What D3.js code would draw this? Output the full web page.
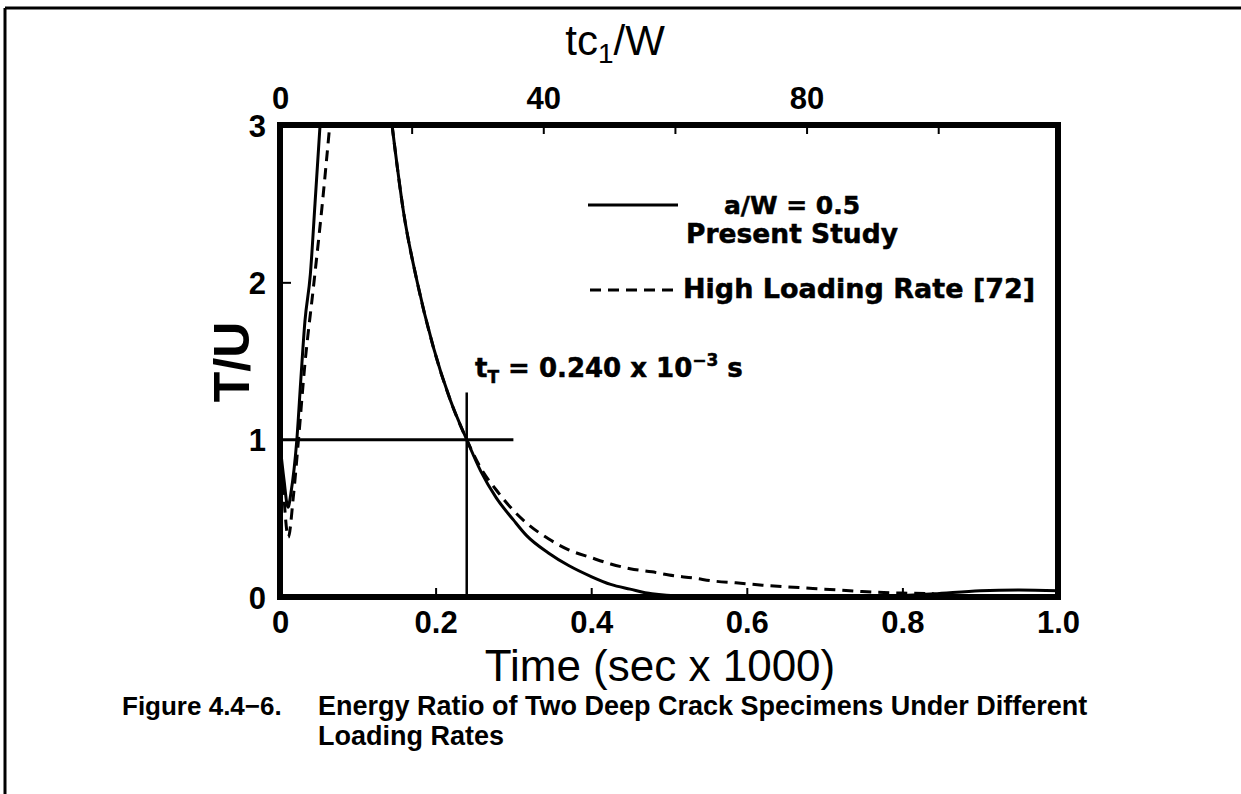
<!DOCTYPE html>
<html>
<head>
<meta charset="utf-8">
<script src="https://cdn.jsdelivr.net/npm/d3@7"></script>
<style>
  html, body { margin: 0; padding: 0; background: #fff; }
  svg { display: block; }
</style>
</head>
<body>
<svg id="chart" width="1241" height="794"></svg>
<script>
// ---------------- data ----------------
// Present study (a/W = 0.5), solid line: rising branch and falling branch
const presentRiseTime  = [0, 0.005, 0.0103, 0.014, 0.0215, 0.027, 0.032, 0.039, 0.045, 0.0515];
const presentRiseRatio = [0.97, 0.75, 0.57, 0.66, 0.99, 1.4, 1.75, 2.05, 2.5, 3.0];
const presentFallTime  = [0.144, 0.159, 0.176, 0.197, 0.219, 0.240, 0.258, 0.278, 0.300, 0.317, 0.345, 0.371, 0.400, 0.425, 0.450, 0.478, 0.520, 0.600, 0.700, 0.780, 0.840, 0.900, 0.950, 1.000];
const presentFallRatio = [3.0, 2.44, 2.01, 1.59, 1.25, 1.0, 0.80, 0.63, 0.49, 0.39, 0.28, 0.20, 0.13, 0.08, 0.05, 0.02, 0.005, 0.0, 0.0, 0.005, 0.02, 0.04, 0.045, 0.04];
// High loading rate [72], dashed line
const highRiseTime  = [0.004, 0.0107, 0.017, 0.0236, 0.032, 0.043, 0.054, 0.064];
const highRiseRatio = [0.72, 0.38, 0.63, 0.99, 1.48, 1.97, 2.48, 3.0];
const highFallTime  = [0.144, 0.159, 0.176, 0.197, 0.219, 0.240, 0.258, 0.278, 0.300, 0.317, 0.345, 0.371, 0.400, 0.425, 0.450, 0.478, 0.500, 0.532, 0.560, 0.586, 0.620, 0.667, 0.700, 0.748, 0.800, 0.840];
const highFallRatio = [3.0, 2.44, 2.01, 1.59, 1.25, 1.0, 0.82, 0.68, 0.55, 0.47, 0.37, 0.30, 0.25, 0.21, 0.18, 0.16, 0.14, 0.12, 0.10, 0.09, 0.075, 0.06, 0.05, 0.035, 0.025, 0.022];

// transition time marker
const transitionTime = 0.240;
const transitionLineTop = 1.3;
const unityLineEnd = 0.30;

// axes
const timeDomain = [0, 1];
const ratioDomain = [0, 3];
const timeTicks = [0, 0.2, 0.4, 0.6, 0.8, 1.0];
const ratioTicks = [0, 1, 2, 3];
const topDomain = [0, 118.2];
const topTicks = [0, 20, 40, 60, 80, 100];
const topTickLabels = [0, 40, 80];

// texts
const topTitle = "tc";
const xTitle = "Time (sec x 1000)";
const yTitle = "T/U";
const legendSolid = ["a/W = 0.5", "Present Study"];
const legendDashed = "High Loading Rate [72]";
const captionNum = "Figure 4.4\u22126.";
const captionLines = ["Energy Ratio of Two Deep Crack Specimens Under Different", "Loading Rates"];

// ---------------- drawing ----------------
const svg = d3.select("#chart");
const box = { left: 280, right: 1058, top: 125, bottom: 597 };

const x = d3.scaleLinear().domain(timeDomain).range([box.left, box.right]);
const xTop = d3.scaleLinear().domain(topDomain).range([box.left, box.right]);
const y = d3.scaleLinear().domain(ratioDomain).range([box.bottom, box.top]);

const sansB = "'Liberation Sans', Arial, Helvetica, sans-serif";
const heavy = "'DejaVu Sans', 'Liberation Sans', sans-serif";

// page frame lines
svg.append("line").attr("x1", 5).attr("y1", 8).attr("x2", 1241).attr("y2", 8)
  .attr("stroke", "#000").attr("stroke-width", 3);
svg.append("line").attr("x1", 5).attr("y1", 8).attr("x2", 5).attr("y2", 794)
  .attr("stroke", "#000").attr("stroke-width", 3);

// clip
svg.append("defs").append("clipPath").attr("id", "plotclip")
  .append("rect").attr("x", box.left).attr("y", box.top)
  .attr("width", box.right - box.left).attr("height", box.bottom - box.top);

// bottom axis (inward ticks)
const gx = svg.append("g").attr("transform", `translate(0,${box.bottom})`)
  .call(d3.axisBottom(x).tickValues(timeTicks).tickSizeInner(-9).tickSizeOuter(0)
    .tickFormat(d => d === 0 ? "0" : d3.format(".1f")(d)));
gx.select(".domain").remove();
gx.selectAll(".tick line").attr("stroke-width", 2)
  .filter(d => d === timeDomain[0] || d === timeDomain[1]).remove();
gx.selectAll(".tick text").attr("y", 36).attr("dy", 0)
  .attr("font-family", sansB).attr("font-weight", "bold").attr("font-size", 31).attr("fill", "#000");

// top axis
const gt = svg.append("g").attr("transform", `translate(0,${box.top})`)
  .call(d3.axisTop(xTop).tickValues(topTicks).tickSizeInner(-9).tickSizeOuter(0)
    .tickFormat(d => topTickLabels.includes(d) ? String(d) : ""));
gt.select(".domain").remove();
gt.selectAll(".tick line").attr("stroke-width", 2).filter(d => d === 0).remove();
gt.selectAll(".tick text").attr("y", -16).attr("dy", 0)
  .attr("font-family", sansB).attr("font-weight", "bold").attr("font-size", 31).attr("fill", "#000");

// left axis
const gy = svg.append("g").attr("transform", `translate(${box.left},0)`)
  .call(d3.axisLeft(y).tickValues(ratioTicks).tickSizeInner(-11).tickSizeOuter(0)
    .tickFormat(d3.format("d")));
gy.select(".domain").remove();
gy.selectAll(".tick line").attr("stroke-width", 2)
  .filter(d => d !== 2).remove();
gy.selectAll(".tick text").attr("x", -14).attr("dy", "0.36em")
  .attr("font-family", sansB).attr("font-weight", "bold").attr("font-size", 31).attr("fill", "#000");

// curves
const line = d3.line().x(d => x(d[0])).y(d => y(d[1])).curve(d3.curveMonotoneX);
const zipSeries = (t, v) => t.map((tt, i) => [tt, v[i]]);
const curves = svg.append("g").attr("clip-path", "url(#plotclip)");
[[presentRiseTime, presentRiseRatio], [presentFallTime, presentFallRatio]].forEach(([t, v]) => {
  curves.append("path").datum(zipSeries(t, v)).attr("d", line)
    .attr("fill", "none").attr("stroke", "#000").attr("stroke-width", 3);
});
[[highRiseTime, highRiseRatio], [highFallTime, highFallRatio]].forEach(([t, v]) => {
  curves.append("path").datum(zipSeries(t, v)).attr("d", line)
    .attr("fill", "none").attr("stroke", "#000").attr("stroke-width", 3)
    .attr("stroke-dasharray", "11,7");
});

// reference lines
svg.append("line").attr("x1", x(0)).attr("x2", x(unityLineEnd))
  .attr("y1", y(1)).attr("y2", y(1)).attr("stroke", "#000").attr("stroke-width", 3);
svg.append("line").attr("x1", x(transitionTime)).attr("x2", x(transitionTime))
  .attr("y1", y(0)).attr("y2", y(transitionLineTop)).attr("stroke", "#000").attr("stroke-width", 2.5);

// plot frame
svg.append("rect").attr("x", box.left).attr("y", box.top)
  .attr("width", box.right - box.left).attr("height", box.bottom - box.top)
  .attr("fill", "none").attr("stroke", "#000").attr("stroke-width", 6);

// annotation t_T = 0.240 x 10^-3 s
const ann = svg.append("text").attr("x", 475).attr("y", 377)
  .attr("font-family", heavy).attr("font-weight", "bold").attr("font-size", 26)
  .attr("fill", "#000").attr("stroke", "#000").attr("stroke-width", 0.5);
ann.append("tspan").text("t");
ann.append("tspan").attr("font-size", 17).attr("dy", 6).text("T");
ann.append("tspan").attr("dy", -6).text(" = " + d3.format(".3f")(transitionTime) + " x 10");
ann.append("tspan").attr("font-size", 17).attr("dy", -11).text("\u22123");
ann.append("tspan").attr("dy", 11).text(" s");

// legend
svg.append("line").attr("x1", 588).attr("x2", 678).attr("y1", 205).attr("y2", 205)
  .attr("stroke", "#000").attr("stroke-width", 3);
svg.append("text").attr("x", 792).attr("y", 214).attr("text-anchor", "middle")
  .attr("font-family", heavy).attr("font-weight", "bold").attr("font-size", 25)
  .attr("stroke", "#000").attr("stroke-width", 0.5).text(legendSolid[0]);
svg.append("text").attr("x", 792).attr("y", 243).attr("text-anchor", "middle")
  .attr("font-family", heavy).attr("font-weight", "bold").attr("font-size", 26.5)
  .attr("stroke", "#000").attr("stroke-width", 0.5).text(legendSolid[1]);
svg.append("line").attr("x1", 590).attr("x2", 673).attr("y1", 290).attr("y2", 290)
  .attr("stroke", "#000").attr("stroke-width", 3).attr("stroke-dasharray", "11,7");
svg.append("text").attr("x", 683).attr("y", 298)
  .attr("font-family", heavy).attr("font-weight", "bold").attr("font-size", 27)
  .attr("stroke", "#000").attr("stroke-width", 0.5).text(legendDashed);

// axis titles
const tt = svg.append("text").attr("x", 615).attr("y", 55).attr("text-anchor", "middle")
  .attr("font-family", sansB).attr("font-size", 42).attr("fill", "#000");
tt.append("tspan").text(topTitle);
tt.append("tspan").attr("font-size", 28).attr("dy", 8).text("1");
tt.append("tspan").attr("dy", -8).text("/W");

svg.append("text").attr("x", 660).attr("y", 681).attr("text-anchor", "middle")
  .attr("font-family", sansB).attr("font-size", 44).attr("fill", "#000").text(xTitle);

svg.append("text").attr("transform", "translate(249,362) rotate(-90)").attr("text-anchor", "middle")
  .attr("font-family", sansB).attr("font-weight", "bold").attr("font-size", 50).attr("fill", "#000").text(yTitle);

// caption
svg.append("text").attr("x", 122).attr("y", 715)
  .attr("font-family", sansB).attr("font-weight", "bold").attr("font-size", 26).text(captionNum);
captionLines.forEach((s, i) => {
  svg.append("text").attr("x", 318).attr("y", 715 + i * 30)
    .attr("font-family", sansB).attr("font-weight", "bold").attr("font-size", 27).text(s);
});
</script>
</body>
</html>
